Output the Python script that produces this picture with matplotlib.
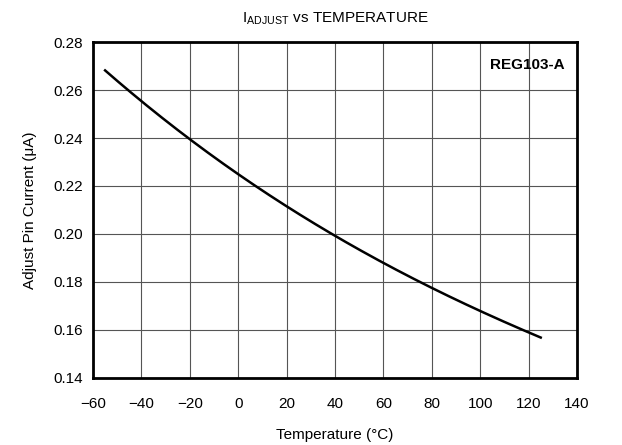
import numpy as np
import matplotlib
matplotlib.use('Agg')
from matplotlib import pyplot as plt

plt.rcParams['font.family'] = ['Liberation Sans', 'DejaVu Sans']
plt.rcParams['mathtext.fontset'] = 'custom'
plt.rcParams['mathtext.rm'] = 'Liberation Sans'

# curve
temp = [-55, -40, -20, 0, 20, 40, 60, 80, 100, 125]
iadj = [0.268, 0.2555, 0.240, 0.2245, 0.211, 0.1995, 0.1885, 0.1775, 0.1675, 0.157]

xticks = list(range(-60, 141, 20))
yticks = [0.14, 0.16, 0.18, 0.20, 0.22, 0.24, 0.26, 0.28]

fig = plt.figure(figsize=(6.22, 4.45), dpi=100)
ax = fig.add_axes([0.1495, 0.1506, 0.7782, 0.755])

# smooth line through the read points
xs = np.linspace(temp[0], temp[-1], 200)
coef = np.polyfit(temp, iadj, 3)
ax.plot(xs, np.polyval(coef, xs), color='black', lw=1.8)

ax.set_xlim(-60, 140)
ax.set_ylim(0.14, 0.28)
ax.set_xticks(xticks)
ax.set_yticks(yticks)
ax.set_yticklabels(['%.2f' % v for v in yticks])
ax.tick_params(length=0, labelsize=11)
ax.tick_params(axis='x', pad=14)
ax.tick_params(axis='y', pad=7)
ax.grid(True, color='#555555', lw=0.8)
for s in ax.spines.values():
    s.set_linewidth(2)

ax.set_xlabel('Temperature (°C)', fontsize=11, labelpad=12)
ax.set_ylabel('Adjust Pin Current (μA)', fontsize=11, labelpad=12)
ax.set_title(r'I$_{\mathregular{ADJUST}}$ vs TEMPERATURE', fontsize=11, pad=14)
ax.text(135, 0.2705, 'REG103-A', ha='right', va='center', fontsize=11, fontweight='bold')

fig.savefig('out.png', dpi=100)
